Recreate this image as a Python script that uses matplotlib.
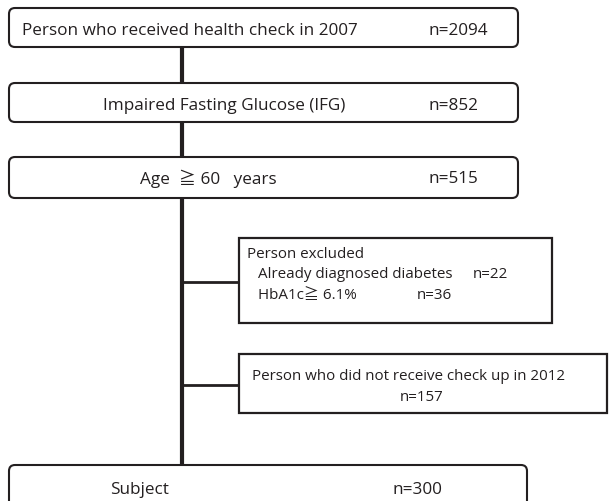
import matplotlib
matplotlib.use("Agg")
import matplotlib.pyplot as plt
from matplotlib.patches import FancyBboxPatch, Rectangle

# ---- content ----
main_labels = ["Person who received health check in 2007",
               "Impaired Fasting Glucose (IFG)",
               "Age  \u2267 60   years",
               "Subject"]
main_counts = [2094, 852, 515, 300]
excl1_title = "Person excluded"
excl1_items = ["Already diagnosed diabetes", "HbA1c\u2267 6.1%"]
excl1_counts = [22, 36]
excl2_label = "Person who did not receive check up in 2012"
excl2_count = 157

# ---- layout (pixels, y downwards) ----
W, H = 609, 502
main_boxes = [(9, 9, 518, 48), (9, 84, 518, 123), (9, 158, 518, 199), (9, 466, 527, 520)]
main_text_y = [31, 106, 179, 490]
main_text_x = [22, 103, 140, 110]
main_count_x = [428, 428, 428, 392]
excl_boxes = [(239, 239, 552, 324), (239, 355, 607, 414)]
trunk_x = 182
branch_y = [283, 386]
ink = "#231f20"
FONT = ["Open Sans", "Noto Sans CJK JP", "DejaVu Sans"]
FS_MAIN = 12.3
FS_EXCL = 10.9

fig = plt.figure(figsize=(W / 100, H / 100), dpi=100)
ax = fig.add_axes([0, 0, 1, 1])
ax.set_xlim(0, W)
ax.set_ylim(H, 0)
ax.axis("off")

# trunk lines
for (a, b) in zip(main_boxes[:-1], main_boxes[1:]):
    ax.plot([trunk_x, trunk_x], [a[3], b[1]], color=ink, lw=3.0, solid_capstyle="butt", zorder=1)

# branches
for by, bx in zip(branch_y, excl_boxes):
    ax.plot([trunk_x, bx[0]], [by, by], color=ink, lw=2.0, solid_capstyle="butt", zorder=1)

# main rounded boxes
for (x0, y0, x1, y1) in main_boxes:
    r = 6
    p = FancyBboxPatch((x0 + r, y0 + r), (x1 - x0) - 2 * r, (y1 - y0) - 2 * r,
                       boxstyle=f"round,pad={r}", fc="white", ec=ink, lw=1.5, zorder=2)
    ax.add_patch(p)

for (x0, y0, x1, y1) in excl_boxes:
    ax.add_patch(Rectangle((x0, y0), x1 - x0, y1 - y0, fc="white", ec=ink, lw=1.6, zorder=2))

# main texts
for i, (lab, n) in enumerate(zip(main_labels, main_counts)):
    yc = main_text_y[i]
    ax.text(main_text_x[i], yc, lab, family=FONT, fontsize=FS_MAIN, color=ink, va="center", ha="left", zorder=3)
    ax.text(main_count_x[i], yc, f"n={n}", family=FONT, fontsize=FS_MAIN, color=ink, va="center", ha="left", zorder=3)

# exclusion box 1
ax.text(247, 254, excl1_title, family=FONT, fontsize=FS_EXCL, color=ink, va="center", ha="left", zorder=3)
ax.text(258, 275, excl1_items[0], family=FONT, fontsize=FS_EXCL, color=ink, va="center", ha="left", zorder=3)
ax.text(473, 275, f"n={excl1_counts[0]}", family=FONT, fontsize=FS_EXCL, color=ink, va="center", ha="left", zorder=3)
ax.text(258, 296, excl1_items[1], family=FONT, fontsize=FS_EXCL, color=ink, va="center", ha="left", zorder=3)
ax.text(417, 296, f"n={excl1_counts[1]}", family=FONT, fontsize=FS_EXCL, color=ink, va="center", ha="left", zorder=3)

# exclusion box 2
ax.text(252, 377, excl2_label, family=FONT, fontsize=FS_EXCL, color=ink, va="center", ha="left", zorder=3)
ax.text(400, 398, f"n={excl2_count}", family=FONT, fontsize=FS_EXCL, color=ink, va="center", ha="left", zorder=3)

fig.savefig("out.png", dpi=100)
